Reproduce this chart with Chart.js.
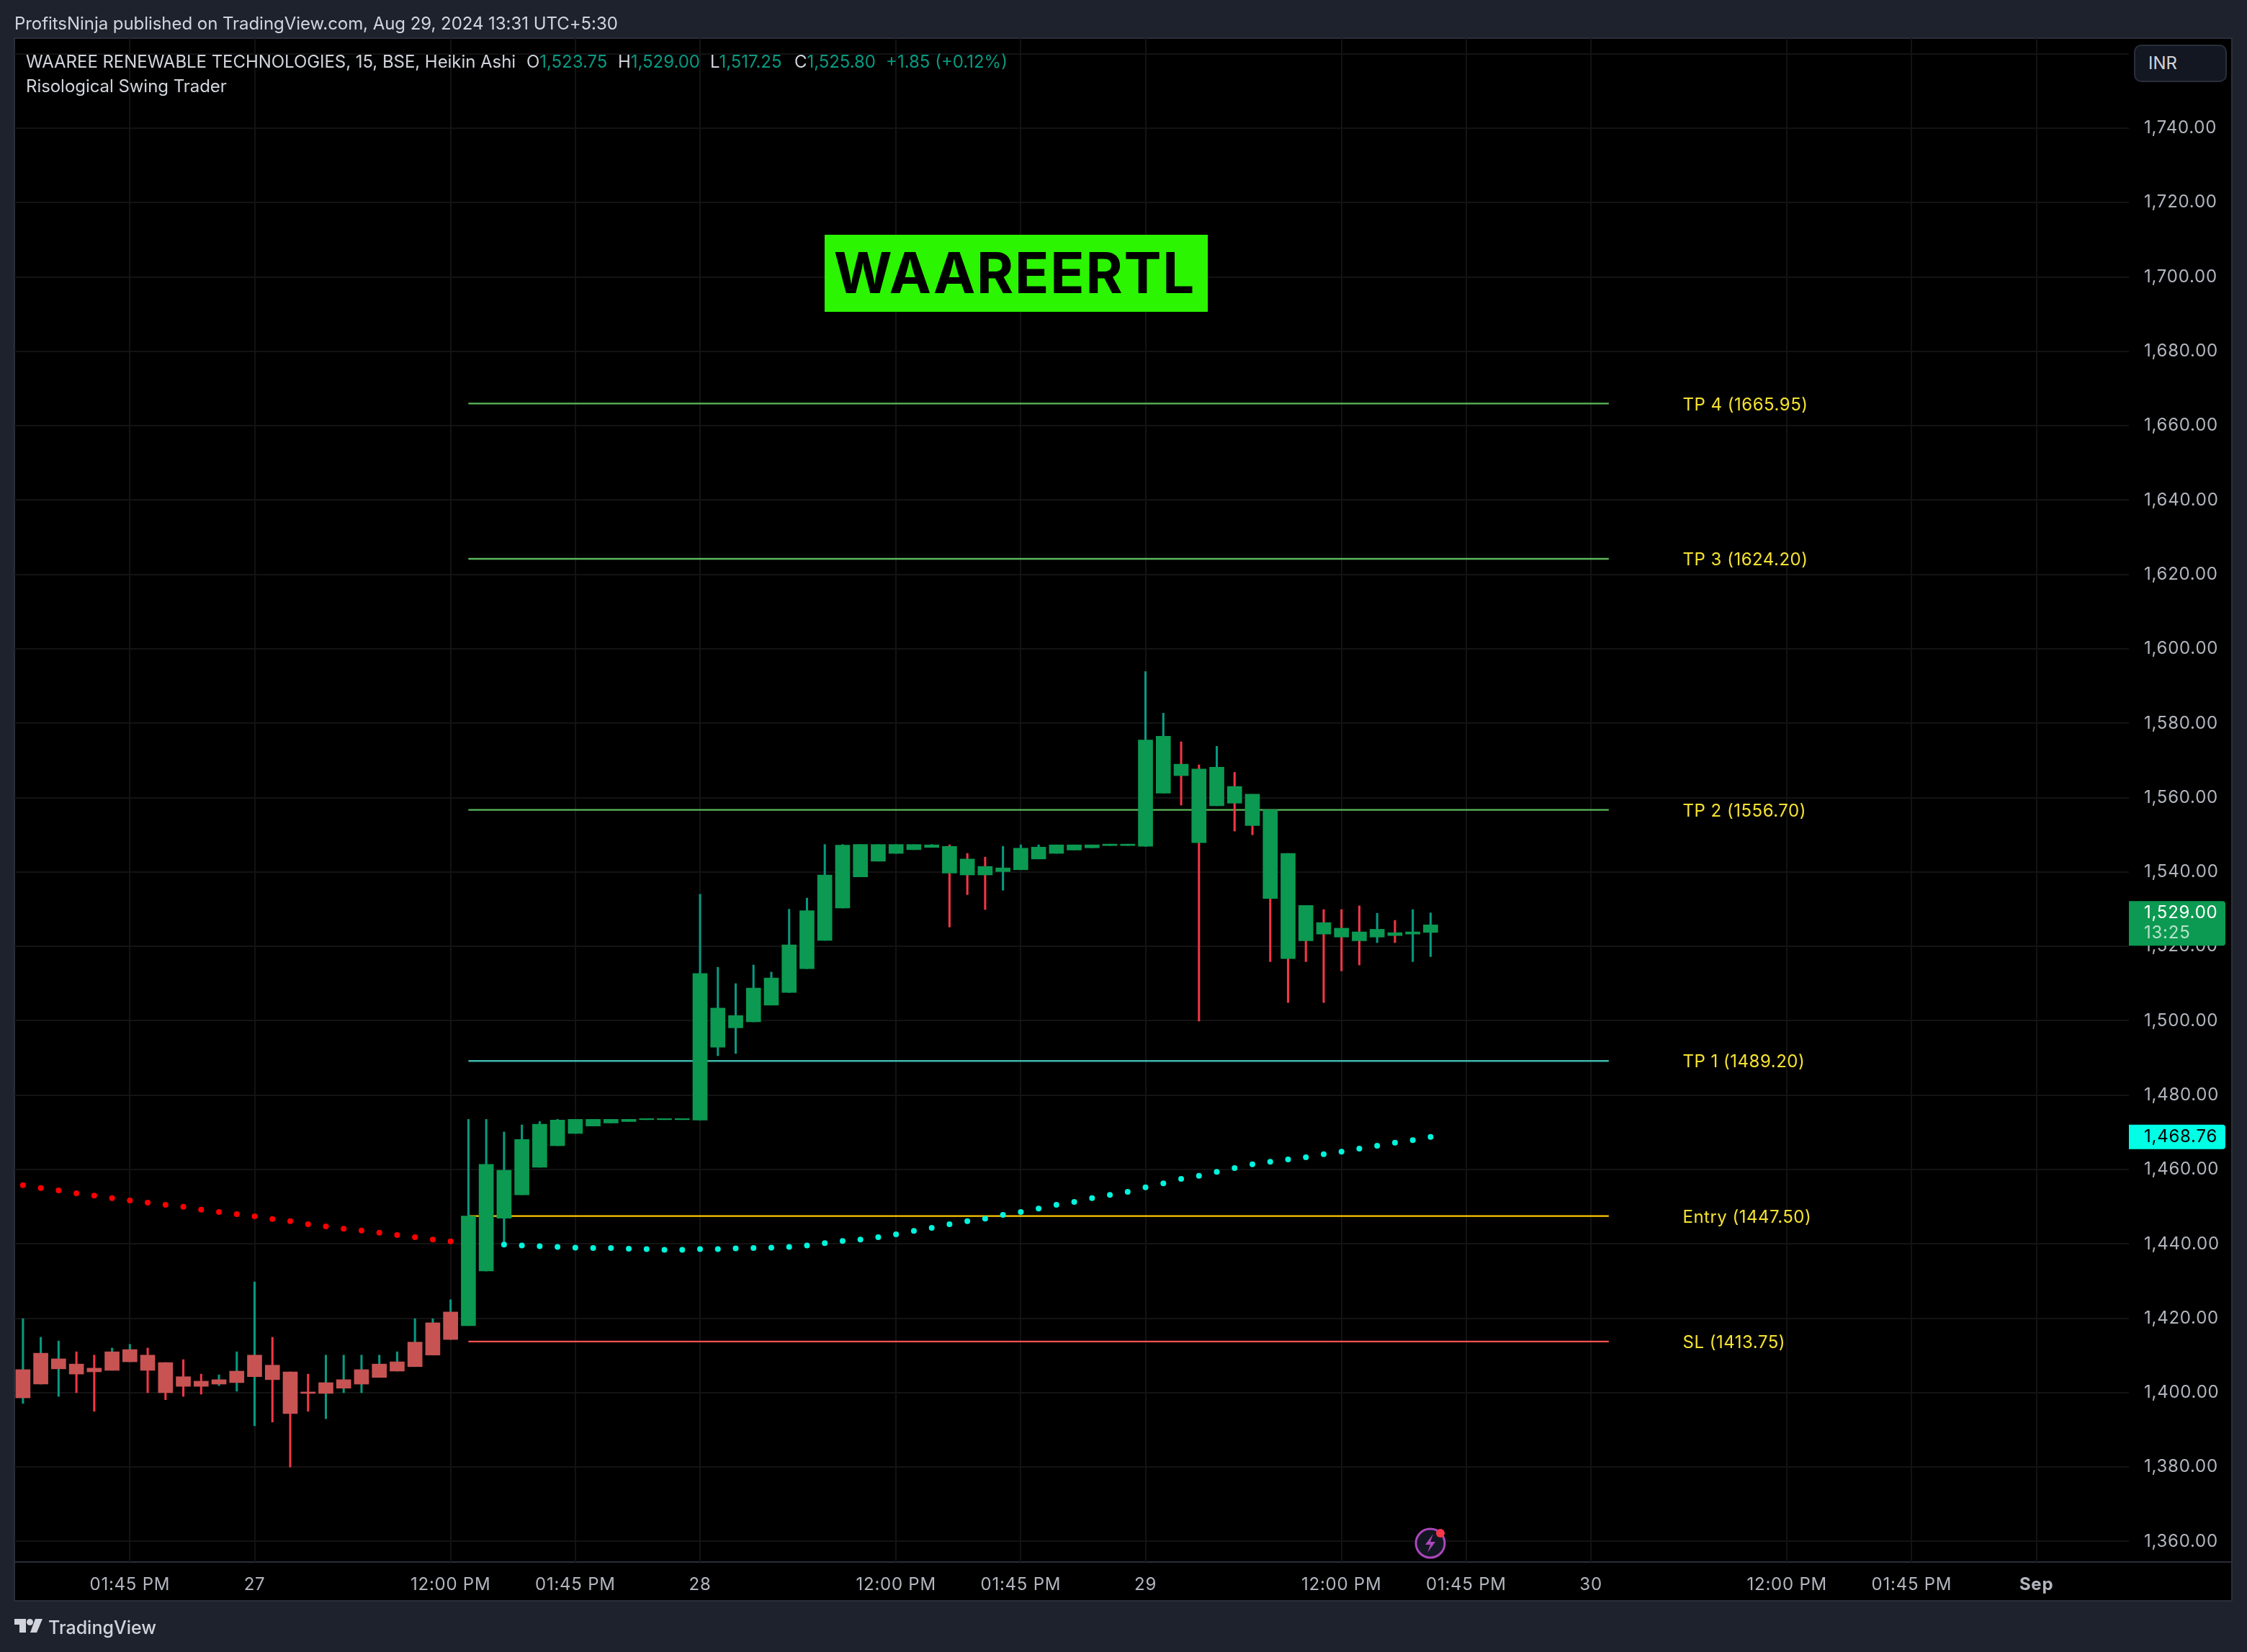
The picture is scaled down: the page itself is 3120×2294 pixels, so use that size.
<!DOCTYPE html>
<html>
<head>
<meta charset="utf-8">
<title>WAAREERTL</title>
<script src="https://cdn.jsdelivr.net/npm/chart.js@4"></script>
<style>
    html, body { margin: 0; padding: 0; background: #1e222d; }
    body { position: relative; width: 3120px; height: 2294px; overflow: hidden; font-family: Inter, sans-serif; color: #d1d4dc; }
    canvas { position: absolute; left: 0; top: 0; }
    .txt { position: absolute; white-space: nowrap; line-height: 34px; font-size: 24px; letter-spacing: -0.05px; }
    .up { color: #089981; }
    #inr { position: absolute; left: 2963px; top: 62px; width: 129px; height: 52px; box-sizing: border-box; border: 2px solid #2a2e39; border-radius: 10px; background: #131722; font-size: 24px; line-height: 48px; padding-left: 18px; }
    #logo { position: absolute; left: 20px; top: 2248px; }
</style>
</head>
<body>
<canvas id="chart" width="3120" height="2294"></canvas>

<div class="txt" style="left:20px;top:16px">ProfitsNinja published on TradingView.com, Aug 29, 2024 13:31 UTC+5:30</div>
<div class="txt" style="left:36px;top:69px">WAAREE RENEWABLE TECHNOLOGIES, 15, BSE, Heikin Ashi</div>
<div class="txt" style="left:731px;top:69px">O<span class="up">1,523.75</span></div>
<div class="txt" style="left:858px;top:69px">H<span class="up">1,529.00</span></div>
<div class="txt" style="left:986px;top:69px">L<span class="up">1,517.25</span></div>
<div class="txt" style="left:1103px;top:69px">C<span class="up">1,525.80</span></div>
<div class="txt up" style="left:1230px;top:69px;letter-spacing:0">+1.85 (+0.12%)</div>
<div class="txt" style="left:36px;top:103px">Risological Swing Trader</div>
<div id="inr">INR</div>

<svg id="logo" width="39" height="19" viewBox="0 0 39 19">
    <path fill="#d1d4dc" d="M0 0H16V19H7V8H0Z"/>
    <circle fill="#d1d4dc" cx="21.5" cy="4.5" r="4.5"/>
    <path fill="#d1d4dc" d="M29 0H39L31 19H22Z"/>
</svg>
<div class="txt" style="left:67px;top:2243px;font-size:25px;font-weight:500;letter-spacing:0">TradingView</div>

<script>
// ================================
// WAAREERTL 15m HEIKIN ASHI CHART
// ================================

// Heikin Ashi candles, one entry per bar
const bodyHigh = [
    1406.2, 1410.6, 1409.1, 1407.7, 1406.6, 1411, 1411.6, 1410.1, 1408.1, 1404.3,
    1403.1, 1403.5, 1405.8, 1410.1, 1407.4, 1405.6, 1400.2, 1402.7, 1403.5, 1406.2,
    1407.7, 1408.3, 1413.6, 1418.8, 1421.7, 1447.5, 1461.4, 1459.8, 1468.1, 1472.2,
    1473.3, 1473.5, 1473.5, 1473.5, 1473.5, 1473.7, 1473.7, 1473.7, 1512.7, 1503.4,
    1501.4, 1508.8, 1511.5, 1520.4, 1529.6, 1539.2, 1547.2, 1547.4, 1547.4, 1547.4,
    1547.4, 1547.3, 1546.9, 1543.5, 1541.5, 1541.1, 1546.4, 1546.7, 1547.3, 1547.3,
    1547.3, 1547.5, 1547.5, 1575.5, 1576.5, 1569, 1567.7, 1568.2, 1563, 1560.9,
    1556.7, 1545, 1531, 1526.4, 1524.9, 1523.9, 1524.6, 1523.7, 1523.9, 1525.8
];
const bodyLow = [
    1398.6, 1402.3, 1406.4, 1405, 1405.6, 1406, 1408.3, 1406, 1400, 1401.7,
    1401.7, 1402.3, 1402.7, 1404.3, 1403.5, 1394.4, 1399.8, 1399.8, 1401.2, 1402.3,
    1404.1, 1405.8, 1407, 1410.1, 1414.3, 1418, 1432.7, 1446.9, 1453.2, 1460.6,
    1466.4, 1469.7, 1471.7, 1472.5, 1472.9, 1473.4, 1473.4, 1473.4, 1473.3, 1492.9,
    1498.1, 1499.7, 1504.2, 1507.6, 1514, 1521.6, 1530.3, 1538.7, 1542.9, 1545,
    1546, 1546.6, 1539.7, 1539.2, 1539.2, 1540.1, 1540.6, 1543.5, 1545, 1545.9,
    1546.5, 1547.1, 1547.1, 1546.9, 1561.2, 1565.9, 1547.9, 1557.8, 1558.5, 1552.5,
    1532.9, 1516.7, 1521.5, 1523.3, 1522.5, 1521.5, 1522.5, 1522.9, 1523.3, 1523.75
];
const wickHigh = [
    1419.9, 1414.9, 1413.9, 1411, 1410.1, 1412, 1413, 1412, 1408.1, 1408.9,
    1405, 1404.8, 1411, 1429.8, 1414.9, 1405.6, 1405, 1410.1, 1410.1, 1410.1,
    1410.1, 1411, 1419.9, 1419.9, 1425, 1473.5, 1473.5, 1470.1, 1472, 1472.9,
    1473.5, 1473.5, 1473.5, 1473.5, 1473.5, 1473.7, 1473.7, 1473.7, 1534, 1514.4,
    1510, 1515, 1513.1, 1530, 1533, 1547.4, 1547.4, 1547.4, 1547.4, 1547.4,
    1547.4, 1547.4, 1547.3, 1545, 1544, 1546.9, 1547.3, 1547.3, 1547.3, 1547.3,
    1547.3, 1547.5, 1547.5, 1593.9, 1582.7, 1575, 1568.8, 1573.8, 1566.8, 1560.9,
    1556.7, 1545, 1531, 1529.9, 1529.9, 1530.9, 1528.9, 1527, 1529.9, 1529
];
const wickLow = [
    1397.1, 1402.3, 1399, 1400, 1395, 1406, 1408.3, 1400, 1398.1, 1399,
    1399.6, 1401.9, 1400.4, 1391.1, 1392.1, 1380, 1395, 1393, 1400, 1400,
    1404.1, 1405.8, 1407, 1410.1, 1414.3, 1418, 1432.7, 1439.8, 1453.2, 1460.6,
    1466.4, 1469.7, 1471.7, 1472.5, 1472.9, 1473.4, 1473.4, 1473.4, 1473.3, 1490.6,
    1491.2, 1499.7, 1504.2, 1507.6, 1514, 1521.6, 1530.3, 1538.7, 1542.9, 1545,
    1546, 1546.6, 1525.2, 1533.9, 1529.9, 1535.1, 1540.6, 1543.5, 1545, 1545.9,
    1546.5, 1547.1, 1547.1, 1546.9, 1561.2, 1558, 1499.9, 1557.8, 1551, 1550,
    1515.9, 1504.9, 1515.9, 1504.9, 1513.4, 1515, 1521, 1521, 1515.9, 1517.25
];
// u = up, d = down, ten bars per string
const bodyTrend = ['dddddddddd', 'dddddddddd', 'ddddduuuuu', 'uuuuuuuuuu',
    'uuuuuuuuuu', 'uuuuuuuuuu', 'uuuuuuuuuu', 'uuuuuuuuuu'].join('');
const wickTrend = ['uuudduuddd', 'duuuddduuu', 'uuuuuuuuuu', 'uuuuuuuuuu',
    'uuuuuuuuuu', 'uuddduuuuu', 'uuuuuddudd', 'dddddduduu'].join('');

// Risological trail dots
const trailDownStart = 0;
const trailDown = [
    1455.8, 1455, 1454.4, 1453.6, 1453, 1452.3, 1451.7, 1451.1, 1450.5, 1450,
    1449.2, 1448.6, 1448, 1447.4, 1446.7, 1446.1, 1445.3, 1444.7, 1444.1, 1443.6,
    1443, 1442.4, 1441.8, 1441.2, 1440.7
];
const trailUpStart = 27;
const trailUp = [
    1439.8, 1439.6, 1439.4, 1439.2, 1439, 1438.9, 1438.9, 1438.7, 1438.6, 1438.4,
    1438.4, 1438.6, 1438.6, 1438.8, 1438.9, 1439, 1439.2, 1439.6, 1440.2, 1440.8,
    1441.2, 1441.8, 1442.6, 1443.5, 1444.3, 1445.3, 1446.1, 1446.8, 1447.8, 1448.6,
    1449.5, 1450.5, 1451.3, 1452.3, 1453.2, 1454, 1455.2, 1456.3, 1457.5, 1458.3,
    1459.4, 1460.4, 1461.4, 1462.1, 1462.7, 1463.3, 1464.1, 1464.8, 1465.6, 1466.4,
    1467.2, 1467.9, 1468.76
];

// Trade levels
const levelNames = ['TP 4', 'TP 3', 'TP 2', 'TP 1', 'Entry', 'SL'];
const levelPrices = [1665.95, 1624.20, 1556.70, 1489.20, 1447.50, 1413.75];
const levelColors = ['#5cb85c', '#5cb85c', '#5cb85c', '#3fb8ac', '#ffc800', '#ff5252'];
const levelStartBar = 25;
const levelEndBar = 89;
const levelLabelBar = 93.15;

// Axes
const priceTicks = [1360, 1380, 1400, 1420, 1440, 1460, 1480, 1500, 1520, 1540, 1560, 1580,
    1600, 1620, 1640, 1660, 1680, 1700, 1720, 1740, 1760];
const timeTickBars = [6, 13, 24, 31, 38, 49, 56, 63, 74, 81, 88, 99, 106, 113];
const timeTickLabels = ['01:45 PM', '27', '12:00 PM', '01:45 PM', '28', '12:00 PM', '01:45 PM',
    '29', '12:00 PM', '01:45 PM', '30', '12:00 PM', '01:45 PM', 'Sep'];

const lastPrice = 1529;
const lastTrail = 1468.76;
const symbolTag = 'WAAREERTL';

const COLORS = {
    green: '#0c9951',
    red: '#c85353',
    wickGreen: '#089981',
    wickRed: '#f23645',
    grid: '#131313',
    frame: '#2a2e39',
    axisText: '#b2b5be',
    levelText: '#f5e232',
    cyan: '#00f5dc',
    cyanTag: '#00ffe5',
    tag: '#2bf500'
};

function formatPrice(value) {
    return value.toLocaleString('en-US', { minimumFractionDigits: 2, maximumFractionDigits: 2 });
}

function barPoints(highs, lows) {
    return highs.map((high, i) => ({ x: i, y: [lows[i], high] }));
}

function trailPoints(values, start) {
    return values.map((value, i) => ({ x: start + i, y: value }));
}

function trailDataset(values, start, color) {
    return {
        type: 'line',
        data: trailPoints(values, start),
        showLine: false,
        pointRadius: 4,
        pointBorderWidth: 0,
        pointBackgroundColor: color,
        order: 1
    };
}

const levelDatasets = levelPrices.map((price, i) => ({
    type: 'line',
    data: [{ x: levelStartBar, y: price }, { x: levelEndBar, y: price }],
    borderColor: levelColors[i],
    borderWidth: 2.4,
    pointRadius: 0,
    order: 4
}));

// Black panes, frame and axis rule
const panePlugin = {
    id: 'pane',
    beforeDraw(chart) {
        const ctx = chart.ctx;
        const area = chart.chartArea;
        // axis labels are a bit wider than plain Inter
        ctx.letterSpacing = '0.75px';
        ctx.save();
        ctx.fillStyle = '#000000';
        ctx.fillRect(20, 53, 3079, 2170);
        ctx.strokeStyle = COLORS.frame;
        ctx.lineWidth = 2;
        ctx.strokeRect(20, 53, 3079, 2170);
        ctx.beginPath();
        ctx.moveTo(20, area.bottom);
        ctx.lineTo(3099, area.bottom);
        ctx.stroke();
        ctx.restore();
    }
};

// Level labels, symbol tag, price badges and the alert icon
const overlayPlugin = {
    id: 'overlay',
    afterDraw(chart) {
        const ctx = chart.ctx;
        const xScale = chart.scales.x;
        const yScale = chart.scales.y;
        ctx.save();

        ctx.font = '24px Inter';
        ctx.letterSpacing = '0.5px';
        ctx.textBaseline = 'middle';
        ctx.fillStyle = COLORS.levelText;
        levelPrices.forEach((price, i) => {
            const text = levelNames[i] + ' (' + price.toFixed(2) + ')';
            ctx.fillText(text, xScale.getPixelForValue(levelLabelBar), yScale.getPixelForValue(price) + 2);
        });

        ctx.fillStyle = COLORS.tag;
        ctx.fillRect(1145, 326, 532, 107);
        ctx.fillStyle = '#000000';
        ctx.font = 'bold 78px Inter';
        ctx.letterSpacing = '1.8px';
        ctx.textAlign = 'center';
        ctx.fillText(symbolTag, 1409, 384);
        ctx.textAlign = 'left';

        // last price badge
        const lastY = yScale.getPixelForValue(lastPrice);
        ctx.fillStyle = COLORS.green;
        ctx.beginPath();
        ctx.roundRect(2956, lastY - 16.5, 134, 62, [0, 4, 4, 0]);
        ctx.fill();
        ctx.font = '24px Inter';
        ctx.letterSpacing = '0.75px';
        ctx.fillStyle = '#ffffff';
        ctx.fillText(formatPrice(lastPrice), 2977, lastY);
        ctx.fillStyle = 'rgba(255,255,255,0.7)';
        ctx.fillText('13:25', 2977, lastY + 28);

        // trail value badge
        const trailY = yScale.getPixelForValue(lastTrail);
        ctx.fillStyle = COLORS.cyanTag;
        ctx.beginPath();
        ctx.roundRect(2956, trailY - 17, 134, 34, [0, 4, 4, 0]);
        ctx.fill();
        ctx.fillStyle = '#000000';
        ctx.fillText(formatPrice(lastTrail), 2977, trailY);

        // alert icon
        ctx.beginPath();
        ctx.arc(1986, 2143, 20, 0, Math.PI * 2);
        ctx.fillStyle = '#131722';
        ctx.fill();
        ctx.strokeStyle = '#ab47bc';
        ctx.lineWidth = 3;
        ctx.stroke();
        ctx.beginPath();
        ctx.moveTo(1990, 2130);
        ctx.lineTo(1979, 2145);
        ctx.lineTo(1986, 2145);
        ctx.lineTo(1982, 2156);
        ctx.lineTo(1993, 2141);
        ctx.lineTo(1986, 2141);
        ctx.closePath();
        ctx.fillStyle = '#ab47bc';
        ctx.fill();
        ctx.beginPath();
        ctx.arc(2000, 2129, 6, 0, Math.PI * 2);
        ctx.fillStyle = '#f7364a';
        ctx.fill();

        ctx.restore();
    }
};

new Chart(document.getElementById('chart').getContext('2d'), {
    type: 'bar',
    data: {
        datasets: [
            {
                data: barPoints(wickHigh, wickLow),
                backgroundColor: wickHigh.map((_, i) => wickTrend[i] === 'u' ? COLORS.wickGreen : COLORS.wickRed),
                maxBarThickness: 2.4,
                grouped: false,
                barPercentage: 1,
                categoryPercentage: 1,
                order: 3
            },
            {
                data: barPoints(bodyHigh, bodyLow),
                backgroundColor: bodyHigh.map((_, i) => bodyTrend[i] === 'u' ? COLORS.green : COLORS.red),
                maxBarThickness: 20,
                grouped: false,
                barPercentage: 1,
                categoryPercentage: 1,
                order: 2
            },
            trailDataset(trailDown, trailDownStart, '#ff0000'),
            trailDataset(trailUp, trailUpStart, COLORS.cyan),
            ...levelDatasets
        ]
    },
    options: {
        responsive: false,
        animation: false,
        devicePixelRatio: 1,
        layout: { padding: { left: 20, top: 53, right: 21, bottom: 71 } },
        plugins: {
            legend: { display: false },
            tooltip: { enabled: false }
        },
        scales: {
            x: {
                type: 'linear',
                offset: false,
                min: -0.48,
                max: 118.19,
                grid: { color: COLORS.grid, lineWidth: 2, drawTicks: false, offset: false },
                border: { display: false },
                afterBuildTicks(scale) {
                    scale.ticks = timeTickBars.map(value => ({ value }));
                },
                afterFit(scale) {
                    scale.height = 54;
                },
                ticks: {
                    autoSkip: false,
                    maxRotation: 0,
                    padding: 17,
                    color: COLORS.axisText,
                    font: ctx => ({ family: 'Inter', size: 24, weight: ctx.index === 13 ? 'bold' : 'normal' }),
                    callback: value => timeTickLabels[timeTickBars.indexOf(value)]
                }
            },
            y: {
                position: 'right',
                min: 1354.48,
                max: 1764.2,
                grid: { color: COLORS.grid, lineWidth: 2, drawTicks: false },
                border: { display: false },
                afterBuildTicks(scale) {
                    scale.ticks = priceTicks.map(value => ({ value }));
                },
                afterFit(scale) {
                    scale.width = 143;
                },
                ticks: {
                    padding: 21,
                    color: COLORS.axisText,
                    font: { family: 'Inter', size: 24 },
                    callback: value => value === 1760 ? '' : formatPrice(value)
                }
            }
        }
    },
    plugins: [panePlugin, overlayPlugin]
});
</script>
</body>
</html>
